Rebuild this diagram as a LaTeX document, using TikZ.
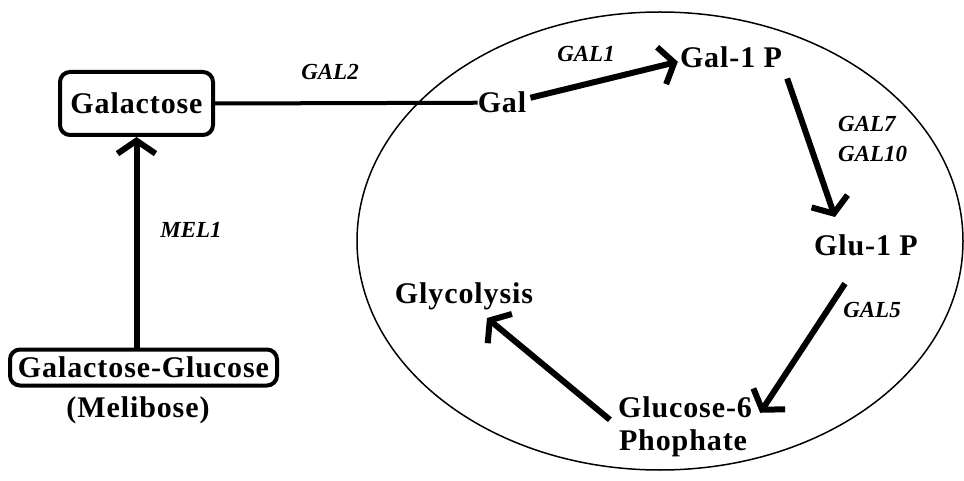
\documentclass[tikz,border=0pt]{standalone}
\usepackage{fontspec}
\setmainfont{Liberation Serif}
\newfontfamily\widefam[LetterSpace=3]{Liberation Serif}
\usetikzlibrary{arrows.meta,calc}
\tikzset{
  bigtxt/.style={font=\widefam\bfseries\fontsize{30}{33}\selectfont, inner sep=0pt, anchor=base},
  gene/.style={font=\bfseries\itshape\fontsize{23}{26}\selectfont, inner sep=0pt, anchor=base},
  box/.style={draw, line width=4pt, rounded corners=10pt, inner sep=1pt, font=\widefam\bfseries\fontsize{30}{33}\selectfont},
  arr/.style={line width=6pt, -{Straight Barb[length=13pt,width=38pt]}},
  link/.style={line width=4pt},
  cell/.style={line width=1.5pt}
}
\begin{document}
\begin{tikzpicture}[x=1pt,y=-1pt]
\useasboundingbox (0,0) rectangle (964,481);
% cell
\draw[cell] (660,241) ellipse [x radius=303pt, y radius=229pt];
% outside
\node[box, minimum width=153pt, minimum height=63pt] (galbox) at (136.5,103.5) {Galactose};
\node[box, minimum width=267pt, minimum height=36pt] (melbox) at (143.5,367.5) {Galactose-Glucose};
\node[bigtxt] (meli) at (138,417) {(Melibose)};
\node[gene] (mel1) at (191,237) {MEL1};
\node[gene] (gal2) at (330,80) {GAL2};
% inside
\node[bigtxt] (gal) at (502,113) {Gal};
\node[bigtxt] (galp) at (731,68) {Gal-1 P};
\node[gene] (gal1) at (586,62) {GAL1};
\node[gene, anchor=base west] (gal7) at (838,132) {GAL7};
\node[gene, anchor=base west] (gal10) at (838,162) {GAL10};
\node[bigtxt] (glup) at (866,255) {Glu-1 P};
\node[gene] (gal5) at (872,317) {GAL5};
\node[bigtxt] (g6) at (685,417) {Glucose-6};
\node[bigtxt] (phos) at (683,450) {Phophate};
\node[bigtxt] (glyc) at (464,303) {Glycolysis};
% connectors
\draw[arr] (galbox.south |- melbox.north) -- (galbox.south);
\draw[link] (galbox.east) -- (gal.west);
\draw[arr] ($(gal.east)+(4,-5)$) -- ($(galp.west)+(-2,4)$);
\draw[arr] ($(galp.south east)+(5,10)$) -- ($(glup.north west)+(21,-17)$);
\draw[arr] ($(glup.south)+(-21,28)$) -- ($(g6.east)+(8,6)$);
\draw[arr] ($(g6.west)+(-8,13)$) -- ($(glyc.base)+(23,15)$);
\end{tikzpicture}
\end{document}
